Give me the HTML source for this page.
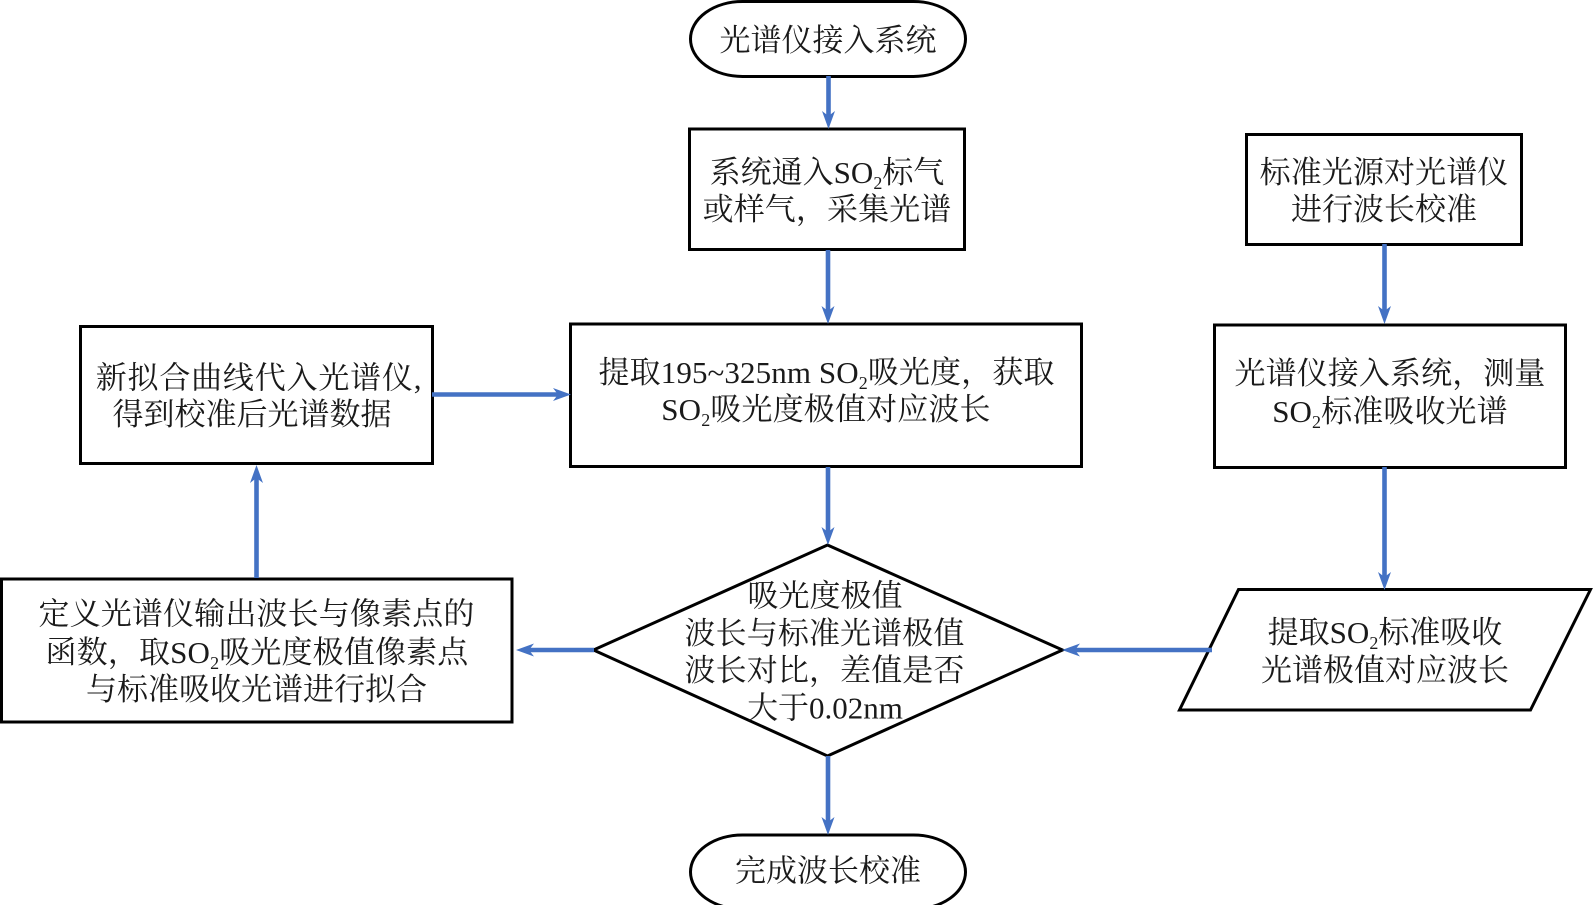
<!DOCTYPE html>
<html><head><meta charset="utf-8"><style>
html,body{margin:0;padding:0;background:#fff}
svg{display:block}
text{font-family:"Liberation Serif","Noto Serif CJK SC",serif;font-size:31px;fill:#1a1a1a;text-anchor:middle}
.s{fill:#fff;stroke:#000;stroke-width:3}
.l{stroke:#4472c4;stroke-width:4.6;fill:none}
.h{fill:#4472c4}
tspan.u{font-size:18px}
</style></head><body>
<svg width="1594" height="905" viewBox="0 0 1594 905" xmlns="http://www.w3.org/2000/svg">
<rect class="s" x="690.500" y="1.5" width="275" height="75" rx="52" ry="37.5"/>
<rect class="s" x="689.500" y="129" width="275" height="120.500"/>
<rect class="s" x="1246.500" y="134.500" width="275" height="110"/>
<rect class="s" x="570.500" y="324" width="511" height="142.500"/>
<rect class="s" x="80.500" y="326.500" width="352" height="137"/>
<rect class="s" x="1214.500" y="325" width="351" height="142.500"/>
<polygon class="s" points="827.500,545 1062.500,650 827.500,756 593.500,650"/>
<rect class="s" x="1.500" y="579" width="510.500" height="143"/>
<polygon class="s" points="1238.500,589.500 1590.500,589.500 1530.500,710 1179.500,710"/>
<rect class="s" x="690.500" y="835" width="275" height="74" rx="52" ry="37"/>

<path class="l" d="M828.500 76V118M828 250V314M1384.500 244V314M1384.500 467V580M828 467V535M828 756V825M256.500 578V476M432 394.500H560M594 650H527M1212 650H1073"/>
<g class="h">
<polygon points="828.500,129 822,111 828.500,116 835,111"/>
<polygon points="828,324 821.500,306 828,311 834.500,306"/>
<polygon points="1384.500,324 1378,306 1384.500,311 1391,306"/>
<polygon points="1384.500,590 1378,572 1384.500,577 1391,572"/>
<polygon points="828,545 821.500,527 828,532 834.500,527"/>
<polygon points="828,835 821.500,817 828,822 834.500,817"/>
<polygon points="256.500,465 250,483 256.500,478 263,483"/>
<polygon points="571,394.500 553,388 558,394.500 553,401"/>
<polygon points="516,650 534,643.500 529,650 534,656.500"/>
<polygon points="1062,650 1080,643.500 1075,650 1080,656.500"/>
</g>

<text x="828" y="51">光谱仪接入系统</text>
<text x="827" y="183">系统通入SO<tspan class="u" dy="6">2</tspan><tspan dy="-6">标气</tspan></text>
<text x="827" y="220" style="letter-spacing:.1px">或样气，采集光谱</text>
<text x="1384" y="183" style="letter-spacing:.1px">标准光源对光谱仪</text>
<text x="1384" y="220">进行波长校准</text>
<text x="826.500" y="383" style="letter-spacing:.1px">提取195~325nm SO<tspan class="u" dy="6">2</tspan><tspan dy="-6">吸光度，获取</tspan></text>
<text x="826" y="420" style="letter-spacing:.15px">SO<tspan class="u" dy="6">2</tspan><tspan dy="-6">吸光度极值对应波长</tspan></text>
<text x="259" y="388.500" style="letter-spacing:.8px">新拟合曲线代入光谱仪,</text>
<text x="252" y="425">得到校准后光谱数据</text>
<text x="1390" y="384" style="letter-spacing:.1px">光谱仪接入系统，测量</text>
<text x="1390" y="422" style="letter-spacing:.1px">SO<tspan class="u" dy="6">2</tspan><tspan dy="-6">标准吸收光谱</tspan></text>
<text x="1385" y="643">提取SO<tspan class="u" dy="6">2</tspan><tspan dy="-6">标准吸收</tspan></text>
<text x="1385" y="681">光谱极值对应波长</text>
<text x="825" y="606.500">吸光度极值</text>
<text x="824.500" y="644" style="letter-spacing:.1px">波长与标准光谱极值</text>
<text x="824.500" y="681" style="letter-spacing:.1px">波长对比，差值是否</text>
<text x="825" y="718.500">大于0.02nm</text>
<text x="256.500" y="624.500" style="letter-spacing:.15px">定义光谱仪输出波长与像素点的</text>
<text x="257" y="663" style="letter-spacing:.15px">函数，取SO<tspan class="u" dy="6">2</tspan><tspan dy="-6">吸光度极值像素点</tspan></text>
<text x="256.500" y="700">与标准吸收光谱进行拟合</text>
<text x="828" y="881.500">完成波长校准</text>
</svg>
</body></html>
